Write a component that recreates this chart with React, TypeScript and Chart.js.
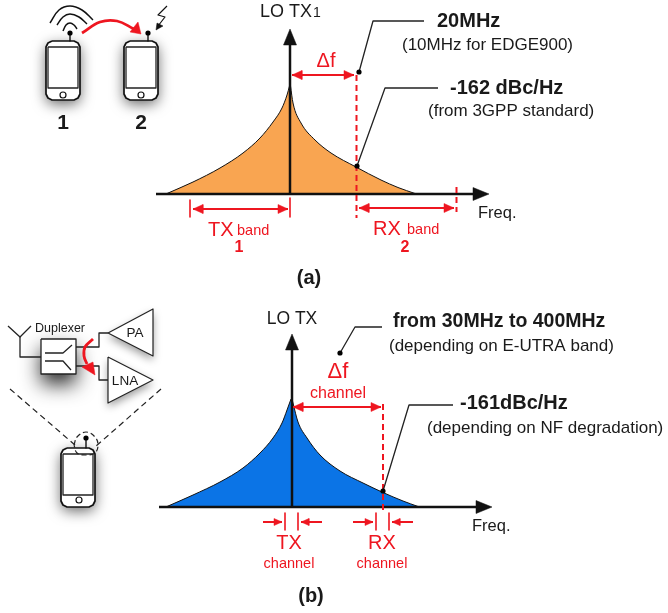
import React, { useEffect, useRef } from "react";
import { Chart, registerables } from "chart.js";

Chart.register(...registerables);

type P = [number, number];

const RED = "#ee1620";
const INK = "#111111";
const ORANGE = "#f9a551";
const BLUE = "#0b74e6";

// Panel (a) spectrum
const orangeLeft: P[] = [[167, 193.5], [193, 182], [220, 168], [243, 153], [260, 138], [273, 122], [282, 108], [287, 95], [289.5, 86]];
const orangeRight: P[] = [[290.5, 86], [293, 103], [301, 123], [315, 140], [331, 153], [356, 167], [381, 180], [398, 187.5], [415, 193.5]];
const BASE_A = 194;

// Panel (b) spectrum
const blueLeft: P[] = [[167, 506.5], [193, 495], [220, 482], [243, 468], [260, 453], [273, 438], [282, 423], [287, 410], [291, 399]];
const blueRight: P[] = [[292, 399], [293, 403], [298, 422], [307, 438], [320, 455], [340, 471], [363, 483], [383, 492.5], [403, 501], [418, 506.5]];
const BASE_B = 507;

// Axes
const axisAX: P[] = [[156, 194], [476, 194]];
const axisAY: P[] = [[290, 194], [290, 40]];
const axisBX: P[] = [[159, 507], [480, 507]];
const axisBY: P[] = [[292, 507], [292, 345]];

// Leaders and their dots
const leaderA1: P[] = [[359, 72], [373, 21], [424, 21]];
const leaderA2: P[] = [[357, 166], [385, 88], [438, 88]];
const leaderB1: P[] = [[340, 353], [355, 327], [382, 327]];
const leaderB2: P[] = [[383, 491], [409, 405], [453, 405]];
const leaderDots: P[] = [[359, 72], [357, 166], [340, 353], [383, 491]];

// Red dimension lines
const dashA: P[] = [[356.5, 75], [356.5, 218]];
const dashRxEnd: P[] = [[456.5, 187], [456.5, 212]];
const dashB: P[] = [[383, 404], [383, 511]];
const tickLines: P[][] = [
  [[190, 200], [190, 217]],
  [[290, 198], [290, 217]],
  [[285, 513], [285, 530]],
  [[298, 513], [298, 530]],
  [[376, 513], [376, 530]],
  [[389, 513], [389, 530]],
];
const arrowsBoth: P[][] = [
  [[292, 75], [354, 75]],
  [[193, 209], [288, 209]],
  [[359, 208], [454, 208]],
  [[293, 407], [381, 407]],
];
const arrowsSingle: P[][] = [
  [[263, 522], [282, 522]],
  [[322, 522], [301, 522]],
  [[353, 522], [373, 522]],
  [[413, 522], [392, 522]],
];

// Phone outline, relative to its top left corner
const phoneOutline: P[] = [[6, 0], [28, 0], [32, 2], [34, 6], [34, 53], [32, 57], [28, 59], [6, 59], [2, 57], [0, 53], [0, 6], [2, 2], [6, 0]];
const phoneScreen: P[] = [[2, 6], [32, 6], [32, 47], [2, 47], [2, 6]];
const phoneOrigins: P[] = [[46, 41], [124, 41], [61, 448]];
const antennae: P[][] = [[[70, 33], [70, 41]], [[148, 33], [148, 41]], [[86, 438], [86, 448]]];
const antennaDots: P[] = [[70, 33], [148, 33], [86, 438]];
const homeButtons: P[] = [[63, 95], [141, 95], [79, 500]];

// Signal arcs and transmission arrows
const wifiOuter: P[] = [[50, 23], [59, 10], [70, 6], [82, 10], [93, 20]];
const wifiMiddle: P[] = [[57, 25], [63, 17], [70, 14], [79, 17], [87, 24]];
const wifiInner: P[] = [[63, 31], [66, 25], [70, 23], [74, 25], [77, 29]];
const couplingArc: P[] = [[82, 33], [100, 22], [117, 21], [134, 29]];
const couplingHead: P[] = [[141, 34], [130, 32], [138, 22]];
const bolt: P[] = [[167, 6], [158, 15], [165, 17], [158, 26]];
const boltHead: P[] = [[156, 30], [157, 23], [163, 26]];

// Front end block diagram
const antennaV: P[][] = [[[8, 326], [20, 337], [31, 326]], [[20, 337], [20, 357], [41, 357]]];
const duplexerBox: P[] = [[41, 339], [76, 339], [76, 374], [41, 374], [41, 339]];
const duplexerUpper: P[] = [[45, 353], [63, 353], [72, 345]];
const duplexerLower: P[] = [[45, 361], [63, 361], [71, 370]];
const paWire: P[] = [[76, 347], [99, 347], [99, 333], [108, 333]];
const lnaWire: P[] = [[76, 366], [99, 366], [99, 380], [108, 380]];
const paShape: P[] = [[108, 333], [153, 309], [153, 356], [108, 333]];
const lnaShape: P[] = [[108, 357], [153, 380], [108, 403], [108, 357]];
const leakArc: P[] = [[93, 339], [85, 347], [84, 356], [87, 364]];
const leakHead: P[] = [[95, 375], [82, 367], [93, 362]];
const zoomLeft: P[] = [[10, 389], [75, 445]];
const zoomRight: P[] = [[161, 389], [95, 447]];
const zoomCircle: P[] = [[74, 445], [77, 437], [86, 432], [95, 437], [98, 445], [95, 453], [86, 455], [77, 453], [74, 445]];

type T = { t: string; x: number; y: number; size: number; color?: string; bold?: boolean; align?: CanvasTextAlign };
const textLabels: T[] = [
  { t: "1", x: 63, y: 123, size: 21, bold: true, align: "center" },
  { t: "2", x: 141, y: 123, size: 21, bold: true, align: "center" },
  { t: "LO TX", x: 260, y: 12, size: 18, align: "left" },
  { t: "1", x: 313, y: 13, size: 14, align: "left" },
  { t: "20MHz", x: 437, y: 21, size: 20, bold: true, align: "left" },
  { t: "(10MHz for EDGE900)", x: 402, y: 45, size: 17, align: "left" },
  { t: "-162 dBc/Hz", x: 450, y: 88, size: 20, bold: true, align: "left" },
  { t: "(from 3GPP standard)", x: 428, y: 111, size: 17, align: "left" },
  { t: "Freq.", x: 478, y: 213, size: 16.5, align: "left" },
  { t: "Δf", x: 326, y: 61, size: 20, color: RED, align: "center" },
  { t: "TX", x: 208, y: 230, size: 20, color: RED, align: "left" },
  { t: "band", x: 237, y: 231, size: 14.5, color: RED, align: "left" },
  { t: "1", x: 239, y: 248, size: 16, color: RED, bold: true, align: "center" },
  { t: "RX", x: 373, y: 229, size: 20, color: RED, align: "left" },
  { t: "band", x: 407, y: 230, size: 14.5, color: RED, align: "left" },
  { t: "2", x: 405, y: 248, size: 16, color: RED, bold: true, align: "center" },
  { t: "(a)", x: 309, y: 278, size: 20, bold: true, align: "center" },
  { t: "Duplexer", x: 35, y: 329, size: 12.5, align: "left" },
  { t: "PA", x: 135, y: 333, size: 13.5, align: "center" },
  { t: "LNA", x: 125, y: 381, size: 13.5, align: "center" },
  { t: "LO TX", x: 292, y: 319, size: 17.5, align: "center" },
  { t: "from 30MHz to 400MHz", x: 393, y: 322, size: 19.5, bold: true, align: "left" },
  { t: "(depending on E-UTRA band)", x: 389, y: 346, size: 17, align: "left" },
  { t: "-161dBc/Hz", x: 460, y: 403, size: 20, bold: true, align: "left" },
  { t: "(depending on NF degradation)", x: 427, y: 428, size: 17, align: "left" },
  { t: "Freq.", x: 472, y: 526, size: 16.5, align: "left" },
  { t: "Δf", x: 338, y: 372, size: 22, color: RED, align: "center" },
  { t: "channel", x: 338, y: 394, size: 16, color: RED, align: "center" },
  { t: "TX", x: 289, y: 543, size: 20, color: RED, align: "center" },
  { t: "channel", x: 289, y: 564, size: 14.5, color: RED, align: "center" },
  { t: "RX", x: 382, y: 543, size: 20, color: RED, align: "center" },
  { t: "channel", x: 382, y: 564, size: 14.5, color: RED, align: "center" },
  { t: "(b)", x: 311, y: 596, size: 20, bold: true, align: "center" },
];

const toXY = (pts: P[]) => pts.map(([x, y]) => ({ x, y }));
const shift = (pts: P[], o: P): P[] => pts.map(([x, y]) => [x + o[0], y + o[1]]);

const line = (pts: P[], color: string, width: number, extra: object = {}) => ({
  data: toXY(pts),
  showLine: true,
  borderColor: color,
  borderWidth: width,
  backgroundColor: "transparent",
  pointRadius: 0,
  borderJoinStyle: "round",
  fill: false,
  clip: false,
  ...extra,
});
const solid = (pts: P[], color: string) =>
  line([...pts, pts[0]], color, 0.5, { backgroundColor: color, fill: "shape" });
const outlined = (pts: P[], stroke: string, width: number, fillColor: string) =>
  line(pts, stroke, width, { backgroundColor: fillColor, fill: "shape" });
const dots = (pts: P[], r: number, color: string, fillColor = color, w = 0) => ({
  data: toXY(pts),
  showLine: false,
  pointRadius: r,
  pointBorderWidth: w,
  pointBorderColor: color,
  pointBackgroundColor: fillColor,
  clip: false,
});
const head = (tip: P, dir: P, len = 11, half = 4.5): P[] => {
  const base: P = [tip[0] - dir[0] * len, tip[1] - dir[1] * len];
  return [tip, [base[0] - dir[1] * half, base[1] + dir[0] * half], [base[0] + dir[1] * half, base[1] - dir[0] * half]];
};
const unit = (a: P, b: P): P => {
  const d = Math.hypot(b[0] - a[0], b[1] - a[1]);
  return [(b[0] - a[0]) / d, (b[1] - a[1]) / d];
};

function buildDatasets() {
  const ds: object[] = [];
  const curve = { cubicInterpolationMode: "monotone" };
  ds.push(line(orangeLeft, INK, 1, { ...curve, backgroundColor: ORANGE, fill: { value: BASE_A } }));
  ds.push(line(orangeRight, INK, 1, { ...curve, backgroundColor: ORANGE, fill: { value: BASE_A } }));
  ds.push(line(blueLeft, INK, 1, { ...curve, backgroundColor: BLUE, fill: { value: BASE_B } }));
  ds.push(line(blueRight, INK, 1, { ...curve, backgroundColor: BLUE, fill: { value: BASE_B } }));

  [axisAX, axisAY, axisBX, axisBY].forEach((a) => ds.push(line(a, INK, 2.5)));
  ds.push(solid(head([489, 194], [1, 0], 16, 6.5), INK));
  ds.push(solid(head([290, 29], [0, -1], 16, 6.5), INK));
  ds.push(solid(head([492, 507], [1, 0], 16, 6.5), INK));
  ds.push(solid(head([292, 334], [0, -1], 16, 6.5), INK));

  [dashA, dashRxEnd, dashB].forEach((a) => ds.push(line(a, RED, 2, { borderDash: [6, 4] })));
  tickLines.forEach((a) => ds.push(line(a, RED, 1.6)));
  arrowsBoth.forEach((a) => {
    const u = unit(a[0], a[1]);
    ds.push(line(a, RED, 2));
    ds.push(solid(head(a[1], u, 10, 4.5), RED));
    ds.push(solid(head(a[0], [-u[0], -u[1]], 10, 4.5), RED));
  });
  arrowsSingle.forEach((a) => {
    ds.push(line(a, RED, 2));
    ds.push(solid(head(a[1], unit(a[0], a[1]), 8, 3.5), RED));
  });

  [leaderA1, leaderA2, leaderB1, leaderB2].forEach((a) => ds.push(line(a, "#222222", 1.3)));
  ds.push(dots(leaderDots, 2.6, "#000000"));

  phoneOrigins.forEach((o) => {
    ds.push(outlined(shift(phoneOutline, o), INK, 1.7, "#ffffff"));
    ds.push(line(shift(phoneScreen, o), "#222222", 1.3));
  });
  antennae.forEach((a) => ds.push(line(a, INK, 1.4)));
  ds.push(dots(antennaDots, 2.6, "#000000"));
  ds.push(dots(homeButtons, 3, INK, "#ffffff", 1.2));

  const arc = { tension: 0.4 };
  [wifiOuter, wifiMiddle, wifiInner].forEach((a) => ds.push(line(a, INK, 1.5, arc)));
  ds.push(line(couplingArc, RED, 2.8, arc));
  ds.push(solid(couplingHead, RED));
  ds.push(line(bolt, INK, 1.2));
  ds.push(solid(boltHead, INK));

  antennaV.forEach((a) => ds.push(line(a, "#222222", 1.3)));
  ds.push(outlined(duplexerBox, "#222222", 1.3, "#ffffff"));
  [duplexerUpper, duplexerLower, paWire, lnaWire].forEach((a) => ds.push(line(a, "#222222", 1.3)));
  ds.push(outlined(paShape, "#222222", 1.2, "#ffffff"));
  ds.push(outlined(lnaShape, "#222222", 1.2, "#ffffff"));
  ds.push(line(leakArc, RED, 2.8, arc));
  ds.push(solid(leakHead, RED));
  [zoomLeft, zoomRight].forEach((a) => ds.push(line(a, "#222222", 1.2, { borderDash: [6, 4] })));
  ds.push(line(zoomCircle, "#222222", 1.2, { ...arc, borderDash: [5, 3] }));

  return ds.reverse(); // Chart.js paints the first dataset last
}

const shadowPlugin = {
  id: "softShadows",
  beforeDatasetsDraw(chart: any) {
    const { ctx, scales } = chart;
    const shapes: { pts: P[]; blur: number; off: number; alpha: number }[] = [
      ...phoneOrigins.map((o) => ({ pts: shift(phoneOutline, o), blur: 14, off: 4, alpha: 0.6 })),
      { pts: duplexerBox, blur: 20, off: 10, alpha: 0.85 },
      { pts: paShape, blur: 9, off: 4, alpha: 0.4 },
      { pts: lnaShape, blur: 9, off: 4, alpha: 0.4 },
    ];
    ctx.save();
    ctx.fillStyle = "#ffffff";
    shapes.forEach((s) => {
      ctx.shadowColor = `rgba(0,0,0,${s.alpha})`;
      ctx.shadowBlur = s.blur;
      ctx.shadowOffsetY = s.off;
      ctx.beginPath();
      s.pts.forEach(([x, y], i) => {
        const px = scales.x.getPixelForValue(x);
        const py = scales.y.getPixelForValue(y);
        if (i) ctx.lineTo(px, py);
        else ctx.moveTo(px, py);
      });
      ctx.closePath();
      ctx.fill();
    });
    ctx.restore();
  },
};

const textPlugin = {
  id: "diagramText",
  afterDatasetsDraw(chart: any) {
    const { ctx, scales } = chart;
    ctx.save();
    ctx.textBaseline = "middle";
    textLabels.forEach((l) => {
      ctx.font = `${l.bold ? "bold " : ""}${l.size}px "Liberation Sans", Arial, sans-serif`;
      ctx.fillStyle = l.color ?? "#1a1a1a";
      ctx.textAlign = l.align ?? "left";
      ctx.fillText(l.t, scales.x.getPixelForValue(l.x), scales.y.getPixelForValue(l.y));
    });
    ctx.restore();
  },
};

export default function App() {
  const ref = useRef<HTMLCanvasElement>(null);
  useEffect(() => {
    document.body.style.margin = "0";
    document.body.style.background = "#ffffff";
    const chart = new Chart(ref.current as HTMLCanvasElement, {
      type: "scatter",
      data: { datasets: buildDatasets() as any },
      options: {
        animation: false,
        responsive: false,
        events: [],
        layout: { padding: 0, autoPadding: false },
        plugins: { legend: { display: false }, tooltip: { enabled: false }, title: { display: false } },
        scales: {
          x: { type: "linear", min: 0, max: 668, display: false },
          y: { type: "linear", min: 0, max: 613, reverse: true, display: false },
        },
      },
      plugins: [shadowPlugin, textPlugin],
    });
    return () => chart.destroy();
  }, []);
  return (
    <canvas
      ref={ref}
      width={668}
      height={613}
      style={{ display: "block", width: 668, height: 613, filter: "blur(0.4px)" }}
    />
  );
}
